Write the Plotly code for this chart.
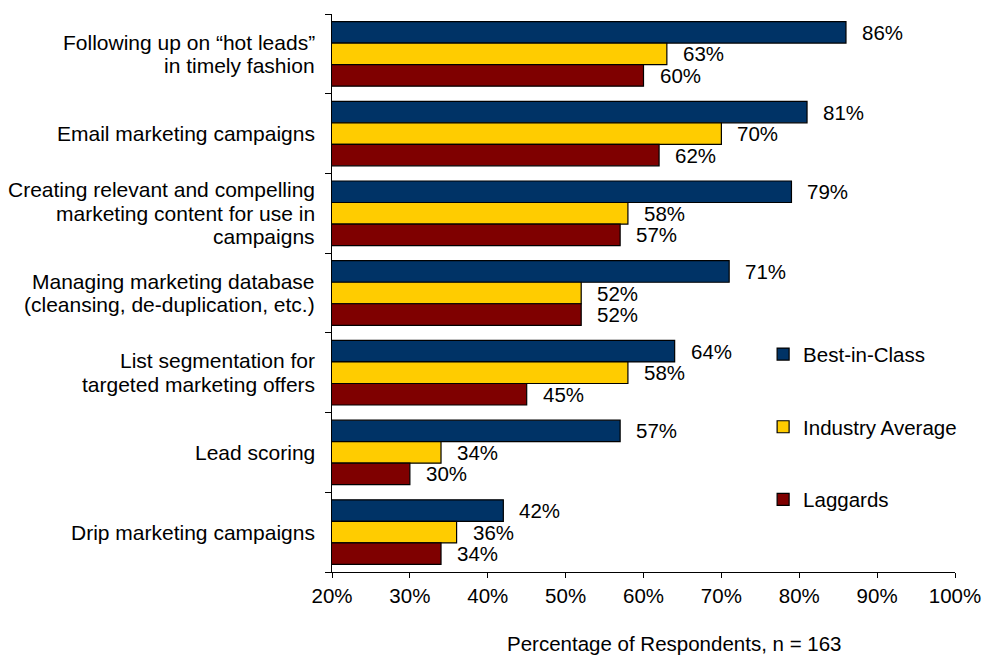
import plotly.graph_objects as go

categories = [
    "Following up on \u201chot leads\u201d<br>in timely fashion",
    "Email marketing campaigns",
    "Creating relevant and compelling<br>marketing content for use in<br>campaigns",
    "Managing marketing database<br>(cleansing, de-duplication, etc.)",
    "List segmentation for<br>targeted marketing offers",
    "Lead scoring",
    "Drip marketing campaigns",
]
best_in_class = [86, 81, 79, 71, 64, 57, 42]
industry_average = [63, 70, 58, 52, 58, 34, 36]
laggards = [60, 62, 57, 52, 45, 30, 34]
x_ticks = [20, 30, 40, 50, 60, 70, 80, 90, 100]
x_tick_labels = [f"{t}%" for t in x_ticks]
axis_title = "Percentage of Respondents, n = 163"

series = [
    ("Best-in-Class", best_in_class, "#003366"),
    ("Industry Average", industry_average, "#FFCC00"),
    ("Laggards", laggards, "#7F0000"),
]

FONT = "Liberation Sans, Arial, sans-serif"
positions = list(range(len(categories)))
bargap = 0.19
bar_w = (1 - bargap) / len(series)

fig = go.Figure()
annotations = []

# bars plus their value labels
for i, (name, vals, color) in enumerate(series):
    fig.add_trace(go.Bar(
        name=name, x=vals, y=positions, orientation="h",
        marker=dict(color=color, line=dict(color="#000000", width=1.2)),
        legendgroup=name,
    ))
    offset = (i - (len(series) - 1) / 2) * bar_w
    for p, v in zip(positions, vals):
        annotations.append(dict(
            x=v, y=p + offset, xref="x", yref="y", text=f"{v}%",
            showarrow=False, xanchor="left", yanchor="middle", xshift=14,
            font=dict(family=FONT, size=20.5, color="#000000"),
        ))

# category labels, one line at a time for tighter line spacing
line_step = 23.5
for p, label in zip(positions, categories):
    lines = label.split("<br>")
    n = len(lines)
    for k, line in enumerate(lines):
        annotations.append(dict(
            x=0, y=p, xref="paper", yref="y", text=line,
            showarrow=False, xanchor="right", yanchor="middle",
            xshift=-15, yshift=((n - 1) / 2 - k) * line_step,
            font=dict(family=FONT, size=21, color="#000000"),
        ))

# x axis title
annotations.append(dict(
    x=0.549, y=-0.129, xref="paper", yref="paper", text=axis_title,
    showarrow=False, xanchor="center", yanchor="middle",
    font=dict(family=FONT, size=20.5, color="#000000"),
))

fig.update_layout(
    width=982, height=656,
    margin=dict(l=332, r=27, t=14, b=84),
    paper_bgcolor="white", plot_bgcolor="white",
    barmode="group", bargap=bargap, bargroupgap=0,
    font=dict(family=FONT, size=20.5, color="#000000"),
    annotations=annotations,
    legend=dict(
        x=0.692, y=0.426, xanchor="left", yanchor="top",
        bgcolor="rgba(0,0,0,0)", font=dict(size=20.5),
        traceorder="grouped", tracegroupgap=43,
        itemwidth=30,
    ),
    xaxis=dict(
        range=[20, 100], tickmode="array", tickvals=x_ticks, ticktext=x_tick_labels,
        showline=True, linecolor="#000000", linewidth=1.2,
        ticks="outside", ticklen=5, tickcolor="#000000",
        showgrid=False, zeroline=False, automargin=False,
        tickfont=dict(size=20.5),
    ),
    yaxis=dict(
        range=[len(categories) - 0.5, -0.5],
        tickvals=positions, showticklabels=False, ticks="",
        showline=True, linecolor="#000000", linewidth=1.2,
        showgrid=False, zeroline=False, automargin=False,
        minor=dict(
            tickvals=[p - 0.5 for p in positions] + [len(categories) - 0.5],
            ticks="outside", ticklen=6, tickcolor="#000000", showgrid=False,
        ),
    ),
    showlegend=True,
)

fig.write_html("out.html")
